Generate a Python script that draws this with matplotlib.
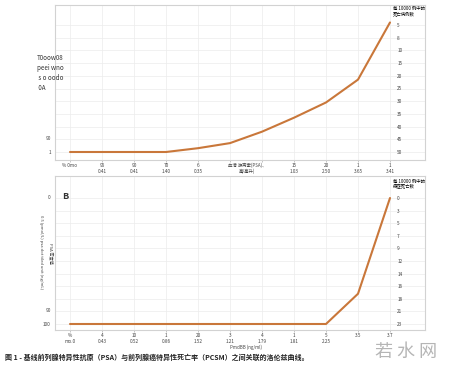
import matplotlib
matplotlib.use("Agg")
import matplotlib.pyplot as plt

plt.rcParams['font.family'] = ['Noto Sans CJK SC', 'DejaVu Sans']

# panel A
idx = list(range(11))
top_xlabels = ["% 0mo", "95\n0.41", "90\n0.41", "70\n1.40", "6\n0.35", "",
               "", "15\n1.03", "20\n2.50", "1\n3.65", "1\n3.41"]
top_vals = [0, 0, 0, 0, 0.3, 0.7, 1.6, 2.7, 3.9, 5.7, 10.2]
top_right_labels = ["50", "45", "40", "35", "30", "25", "20", "15", "10", "8", "5"]
top_left_labels = ["1", "90"]

# panel B
bot_xlabels = ["%\nmo.0", "4\n0.43", "10\n0.52", "1\n0.86", "20\n1.52", "3\n1.21",
               "4\n1.79", "1\n1.81", "5\n2.25", "3.5", "3.7"]
bot_vals = [0, 0, 0, 0, 0, 0, 0, 0, 0, 2.4, 10.0]
bot_right_labels = ["23", "21", "18", "16", "14", "12", "9", "7", "5", "3", "0"]
bot_left_labels = ["100", "90", "0"]

line_color = "#c9773a"
grid_color = "#ececec"
spine_color = "#d2d2d2"
tick_fs = 3.4

fig = plt.figure(figsize=(4.5, 3.66), dpi=100)


def fx(px):
    return px / 450


def fy(py):
    return 1 - py / 366


def panel(top_px, bot_px, unit, vals, xlabels, right_labels, left_ticks, left_labels):
    ax = fig.add_axes([fx(55), fy(bot_px), 370 / 450, (bot_px - top_px) / 366])
    axr = ax.twinx()
    ax.set_zorder(axr.get_zorder() + 1)
    ax.patch.set_visible(False)
    base = bot_px - 8 if unit == 12.7 else bot_px - 6
    for a in (ax, axr):
        a.set_xlim(-15 / 32, 10 + 35 / 32)
        a.set_ylim(-(bot_px - base) / unit, (base - top_px) / unit)
    ax.plot(idx, vals, color=line_color, lw=1.5, solid_capstyle="round")
    ax.set_xticks(idx)
    ax.set_xticklabels(xlabels, fontsize=tick_fs, color="#444444", linespacing=1.1)
    ax.tick_params(axis="x", length=1.5, width=0.4, pad=1, color="#999999")
    ax.set_yticks(left_ticks)
    ax.set_yticklabels(left_labels, fontsize=tick_fs, color="#444444")
    ax.tick_params(axis="y", length=0, pad=3)
    ax.xaxis.grid(True, color=grid_color, lw=0.5)
    axr.set_yticks(range(11))
    axr.set_yticklabels(right_labels, fontsize=tick_fs, color="#444444")
    axr.tick_params(axis="y", length=0, pad=-20)
    axr.yaxis.grid(True, color=grid_color, lw=0.5)
    for s in axr.spines.values():
        s.set_visible(False)
    for s in ax.spines.values():
        s.set_color(spine_color)
        s.set_linewidth(0.8)
    return ax


ax1 = panel(5, 160, 12.7, top_vals, top_xlabels, top_right_labels, [0, 1.1], top_left_labels)
ax2 = panel(176, 330, 12.6, bot_vals, bot_xlabels, bot_right_labels, [0, 1.1, 10.1], bot_left_labels)

fig.text(fx(393), fy(11), "每 10000 例中的\n死亡病例数", fontsize=3.2, va="center", linespacing=1.2)
fig.text(fx(393), fy(184), "每 10000 例中的\n癌症死亡数", fontsize=3.2, va="center", linespacing=1.2)

fig.text(fx(247), fy(168), "血清 游离素(PSA)、\n毫/毫升)", fontsize=3.2, ha="center", va="center",
         color="#444444", linespacing=1.1)
fig.text(fx(246), fy(347), "PmdBB (ng/ml)", fontsize=3.2, ha="center", va="center", color="#444444")

fig.text(fx(37), fy(73), "T0oow08\npeei wno\n s o oodo\n 0A", fontsize=4.5, va="center",
         color="#333333", linespacing=1.35)

fig.text(fx(62), fy(196), "B", fontsize=6.5, fontweight="bold", va="center", color="#333333")
fig.text(fx(41), fy(252), "0.5 (pmol/L) psa dot tiled unit (ng/mL)", fontsize=3.0,
         rotation=270, ha="center", va="center", color="#444444")
fig.text(fx(50), fy(253), "PSA 密度值", fontsize=3.0, rotation=270, ha="center", va="center",
         color="#444444")

fig.text(fx(5), fy(357), "图 1 - 基线前列腺特异性抗原（PSA）与前列腺癌特异性死亡率（PCSM）之间关联的洛伦兹曲线。",
         fontsize=5, fontweight="bold", va="center", color="#222222")
fig.text(fx(406), fy(352), "若 水 网", fontsize=13, ha="center", va="center", color="#b5b5b5")

fig.savefig("out.png", dpi=100)
